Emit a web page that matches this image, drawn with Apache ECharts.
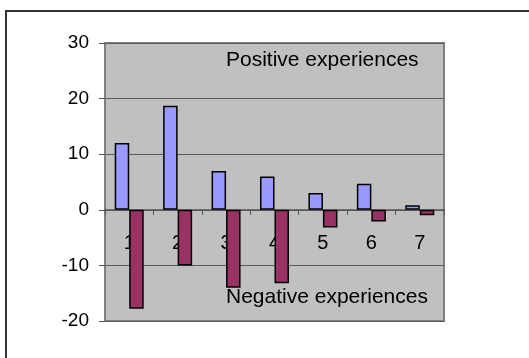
<!DOCTYPE html>
<html>
<head>
<meta charset="utf-8">
<script src="https://cdn.jsdelivr.net/npm/echarts@6/dist/echarts.min.js"></script>
<style>
html,body{margin:0;padding:0;background:#fff;}
#chart{width:529px;height:358px;}
</style>
</head>
<body>
<div id="chart"></div>
<script>
// categories and values
var categories = ['1', '2', '3', '4', '5', '6', '7'];
var positiveValues = [12, 18.7, 7, 6, 3, 4.7, 0.8];
var negativeValues = [-17.8, -10, -14, -13.2, -3.2, -2.1, -1];
var yTicks = { min: -20, max: 30, step: 10 };

var myChart = echarts.init(document.getElementById('chart'));

var option = {
	animation: false,
	textStyle: { fontFamily: 'Liberation Sans, Arial, sans-serif' },
	grid: {
		left: 105, right: 85, top: 43, bottom: 37,
		show: true,
		backgroundColor: '#C0C0C0',
		borderColor: '#808080',
		borderWidth: 2
	},
	graphic: [
		// outer chart border (only top & left fall inside the picture)
		{ type: 'rect', z: -10, shape: { x: 6, y: 11, width: 700, height: 500 },
			style: { fill: 'none', stroke: '#333', lineWidth: 2 } },
		{ type: 'text', left: 226, top: 50, z: 10,
			style: { text: 'Positive experiences', font: '21px Liberation Sans, Arial', fill: '#000' } },
		{ type: 'text', left: 226, top: 287, z: 10,
			style: { text: 'Negative experiences', font: '21px Liberation Sans, Arial', fill: '#000' } }
	],
	xAxis: {
		type: 'category',
		data: categories,
		z: 1,
		axisLine: { onZero: true, lineStyle: { color: '#555', width: 1.5 } },
		axisTick: { show: true, length: 5, lineStyle: { color: '#555' } },
		// labels sit just under the zero line, behind the bars
		axisLabel: { color: '#000', fontSize: 20, margin: -88 },
		splitLine: { show: false }
	},
	yAxis: {
		type: 'value',
		min: yTicks.min,
		max: yTicks.max,
		interval: yTicks.step,
		z: 1,
		axisLine: { show: true, lineStyle: { color: '#808080', width: 2 } },
		axisTick: { show: true, length: 6, lineStyle: { color: '#555' } },
		axisLabel: { color: '#000', fontSize: 19, margin: 16 },
		splitLine: { show: true, lineStyle: { color: '#5a5a5a', width: 1.2 } }
	},
	series: [
		{
			name: 'Positive',
			type: 'bar',
			data: positiveValues,
			barWidth: 14.5,
			barGap: '0%',
			z: 3,
			itemStyle: { color: '#9999FF', borderColor: '#000', borderWidth: 1.5 }
		},
		{
			name: 'Negative',
			type: 'bar',
			data: negativeValues,
			barWidth: 14.5,
			z: 3,
			itemStyle: { color: '#993366', borderColor: '#000', borderWidth: 1.5 }
		}
	]
};

myChart.setOption(option);
</script>
</body>
</html>
